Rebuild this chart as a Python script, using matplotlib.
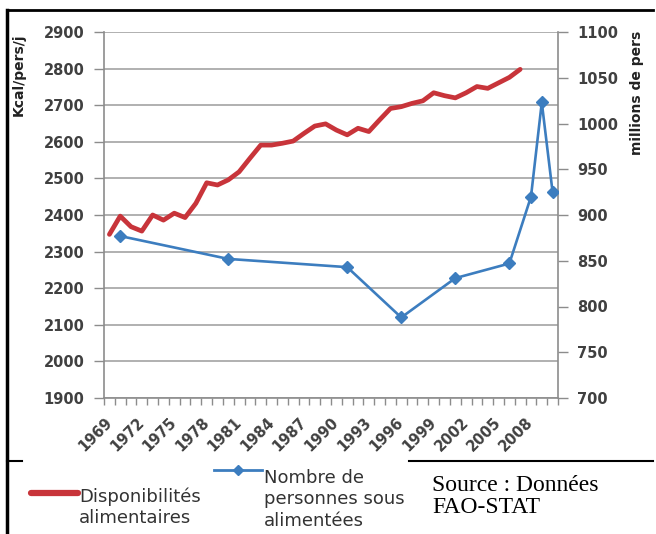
import matplotlib
matplotlib.use('Agg')
import matplotlib.pyplot as plt
from matplotlib.lines import Line2D
from matplotlib.ticker import FixedLocator, MultipleLocator

# Données
years = list(range(1969, 2008))
kcal = [2347, 2397, 2368, 2356, 2400, 2386, 2405, 2393, 2432, 2488,
        2482, 2496, 2518, 2555, 2591, 2591, 2596, 2602, 2623, 2643,
        2649, 2632, 2619, 2637, 2628, 2660, 2691, 2696, 2705, 2712,
        2734, 2726, 2720, 2734, 2751, 2746, 2761, 2776, 2798]
hunger_years = [1970, 1980, 1991, 1996, 2001, 2006, 2008, 2009, 2010]
hunger = [877, 852, 843, 788, 831, 847, 920, 1023, 925]
label_years = list(range(1969, 2009, 3))

plt.rcParams['font.family'] = ['DejaVu Sans']

W, H = 656, 534
fig = plt.figure(figsize=(W / 100, H / 100), dpi=100)

def fx(x):
    return x / W

def fy(y):
    return 1 - y / H

ax = fig.add_axes([fx(104), fy(398), fx(558) - fx(104), fy(32) - fy(398)])
ax2 = ax.twinx()

red = '#c8343a'
blue = '#3c7dbf'
tick_col = '#404040'
axis_col = '#8c8c8c'

ax.plot(years, kcal, color=red, lw=3.4, solid_capstyle='round', zorder=3)
ax2.plot(hunger_years, hunger, color=blue, lw=1.9, marker='D', markersize=6.5,
         markerfacecolor=blue, markeredgecolor=blue, zorder=3)

ax.set_xlim(1968.5, 2010.5)
ax.set_ylim(1900, 2900)
ax2.set_ylim(700, 1100)
ax.yaxis.set_major_locator(MultipleLocator(100))
ax2.yaxis.set_major_locator(MultipleLocator(50))

ax.xaxis.set_major_locator(FixedLocator(label_years))
ax.xaxis.set_minor_locator(FixedLocator([y - 0.5 for y in range(1969, 2012)]))
ax.tick_params(axis='x', which='major', length=0, pad=16)
ax.tick_params(axis='x', which='minor', length=5, color=axis_col, width=1)
ax.tick_params(axis='y', length=7, color=axis_col, width=1, pad=7)
ax2.tick_params(axis='y', length=7, color=axis_col, width=1, pad=7)

for lab in ax.get_xticklabels():
    lab.set_rotation(45)
    lab.set_ha('right')
    lab.set_va('center')
    lab.set_rotation_mode('anchor')
for lab in ax.get_xticklabels() + ax.get_yticklabels() + ax2.get_yticklabels():
    lab.set_fontsize(10.5)
    lab.set_fontweight('bold')
    lab.set_color(tick_col)

ax.grid(axis='y', color='#aaaaaa', lw=1.3)
ax.set_axisbelow(True)
for a in (ax, ax2):
    a.spines['top'].set_visible(False)
    for s in ('left', 'right', 'bottom'):
        a.spines[s].set_color(axis_col)
        a.spines[s].set_linewidth(1.2)
ax.spines['right'].set_visible(False)
ax2.spines['left'].set_visible(False)
ax2.spines['bottom'].set_visible(False)

ax.set_ylabel('Kcal/pers/j', fontsize=10, fontweight='bold', color='#222222')
ax.yaxis.set_label_coords(-0.172, 0.883)
ax2.set_ylabel('millions de pers', fontsize=10, fontweight='bold', color='#222222')
ax2.yaxis.set_label_coords(1.159, 0.835)

# cadre
for xs, ys, lw in [((7, 653), (10, 10), 2), ((7, 7), (10, 534), 2.5),
                   ((7, 22), (461, 461), 1.5), ((409, 653), (461, 461), 1.5)]:
    fig.add_artist(Line2D([fx(x) for x in xs], [fy(y) for y in ys],
                          color='black', lw=lw, transform=fig.transFigure))

# légende
fig.add_artist(Line2D([fx(31), fx(78)], [fy(493), fy(493)], color=red, lw=4.5,
                      solid_capstyle='round', transform=fig.transFigure))
fig.text(fx(79), fy(523), 'Disponibilités\nalimentaires', fontsize=13,
         color='#333333', va='baseline', ha='left', linespacing=1.25)
fig.add_artist(Line2D([fx(214), fx(262)], [fy(470), fy(470)], color=blue, lw=2,
                      transform=fig.transFigure))
fig.add_artist(Line2D([fx(238)], [fy(470)], color=blue, marker='D', markersize=5,
                      transform=fig.transFigure))
fig.text(fx(264), fy(526), 'Nombre de\npersonnes sous\nalimentées', fontsize=13,
         color='#333333', va='baseline', ha='left', linespacing=1.25)

fig.text(fx(432), fy(513), 'Source : Données\nFAO-STAT', fontsize=17,
         family='Liberation Serif', color='black', va='baseline', ha='left',
         linespacing=1.05)

fig.savefig('out.png', dpi=100)
